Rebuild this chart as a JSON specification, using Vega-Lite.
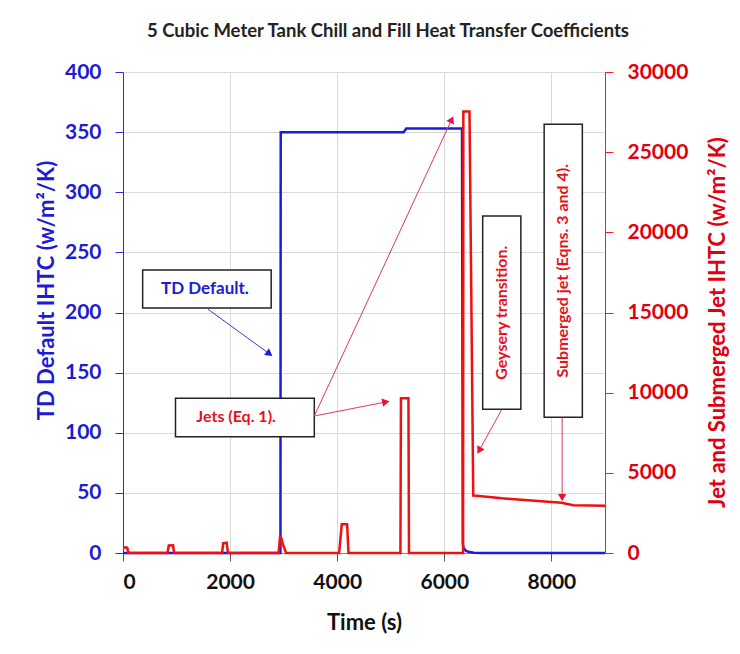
{
  "$schema": "https://vega.github.io/schema/vega-lite/v6.json",
  "width": 482,
  "height": 481,
  "autosize": {"type": "none"},
  "padding": {"left": 123, "top": 72, "right": 135, "bottom": 101},
  "background": "white",
  "title": {"text": "5 Cubic Meter Tank Chill and Fill Heat Transfer Coefficients", "font": "Lato", "fontSize": 18.5, "fontWeight": "bold", "color": "#222222", "anchor": "middle", "dx": 24, "offset": 21},
  "config": {
    "view": {"stroke": null},
    "font": "Lato",
    "axis": {"labelFont": "Lato", "titleFont": "Lato", "labelFontWeight": "bold", "titleFontWeight": "bold", "labelFontSize": 21, "titleFontSize": 22, "tickSize": 8, "gridColor": "#d9d9d9", "gridWidth": 1}
  },
  "datasets": {
    "td": [
      {"t": 0, "v": 0}, {"t": 2940, "v": 0}, {"t": 2945, "v": 350}, {"t": 5240, "v": 350}, {"t": 5290, "v": 353},
      {"t": 6330, "v": 353}, {"t": 6345, "v": 8}, {"t": 6360, "v": 4}, {"t": 6400, "v": 2}, {"t": 6450, "v": 1},
      {"t": 6550, "v": 0.3}, {"t": 6700, "v": 0}, {"t": 9000, "v": 0}
    ],
    "jet": [
      {"t": 0, "r": 330}, {"t": 50, "r": 350}, {"t": 80, "r": 330}, {"t": 100, "r": 0},
      {"t": 830, "r": 0}, {"t": 855, "r": 470}, {"t": 935, "r": 480}, {"t": 955, "r": 0},
      {"t": 1850, "r": 0}, {"t": 1870, "r": 600}, {"t": 1935, "r": 640}, {"t": 1960, "r": 0},
      {"t": 2905, "r": 0}, {"t": 2935, "r": 1100}, {"t": 2960, "r": 900}, {"t": 2990, "r": 500}, {"t": 3045, "r": 0},
      {"t": 4035, "r": 0}, {"t": 4085, "r": 1790}, {"t": 4185, "r": 1790}, {"t": 4210, "r": 0},
      {"t": 5180, "r": 0}, {"t": 5190, "r": 9650}, {"t": 5330, "r": 9650}, {"t": 5340, "r": 0},
      {"t": 6350, "r": 0}, {"t": 6355, "r": 27530}, {"t": 6470, "r": 27530}, {"t": 6540, "r": 3580},
      {"t": 6600, "r": 3570}, {"t": 7075, "r": 3410}, {"t": 7500, "r": 3300}, {"t": 8186, "r": 3140},
      {"t": 8409, "r": 2975}, {"t": 9000, "r": 2950}
    ],
    "boxes": [
      {"id": "td", "t1": 367, "t2": 2767, "r1": 15278, "r2": 17648},
      {"id": "jets", "t1": 980, "t2": 3572, "r1": 7253, "r2": 9645},
      {"id": "gey", "t1": 6716, "t2": 7429, "r1": 8963, "r2": 21015},
      {"id": "sub", "t1": 7864, "t2": 8577, "r1": 8460, "r2": 26738}
    ],
    "labels": [
      {"id": "td", "text": "TD Default.", "t": 1530, "r": 16463},
      {"id": "jets", "text": "Jets (Eq. 1).", "t": 2112, "r": 8482},
      {"id": "gey", "text": "Geysery transition.", "t": 7070, "r": 14985},
      {"id": "sub", "text": "Submerged jet (Eqns. 3 and 4).", "t": 8220, "r": 17603}
    ],
    "arrows": [
      {"id": "a1", "t1": 1587, "r1": 15203, "t2": 2735, "r2": 12420},
      {"id": "a2", "t1": 3572, "r1": 8543, "t2": 4908, "r2": 9420},
      {"id": "a3", "t1": 3572, "r1": 8543, "t2": 6138, "r2": 27038},
      {"id": "a4", "t1": 7075, "r1": 8963, "t2": 6650, "r2": 6390},
      {"id": "a5", "t1": 8200, "r1": 8460, "t2": 8200, "r2": 3450}
    ]
  },
  "layer": [
    {
      "data": {"name": "td"},
      "mark": {"type": "line", "color": "#1c1ce0", "strokeWidth": 2.5},
      "encoding": {
        "x": {"field": "t", "type": "quantitative", "scale": {"domain": [0, 9000], "nice": false},
              "axis": {"title": "Time (s)", "values": [0, 2000, 4000, 6000, 8000], "format": "d", "labelColor": "#111111", "titleColor": "#111111", "domainColor": "#888888", "tickColor": "#555555", "labelPadding": 10, "titlePadding": 20, "grid": true}},
        "y": {"field": "v", "type": "quantitative", "scale": {"domain": [0, 400], "nice": false},
              "axis": {"orient": "left", "title": "TD Default IHTC (w/m²/K)", "values": [0, 50, 100, 150, 200, 250, 300, 350, 400], "format": "d", "labelColor": "#1c1cd0", "titleColor": "#1c1cd0", "domainColor": "#2a2ae0", "tickColor": "#2a2ae0", "labelPadding": 14, "titlePadding": 6, "titleY": 218, "grid": true}}
      }
    },
    {
      "layer": [
        {
          "data": {"name": "jet"},
          "mark": {"type": "line", "color": "#f01010", "strokeWidth": 2.5},
          "encoding": {
            "x": {"field": "t", "type": "quantitative", "scale": {"domain": [0, 9000], "nice": false},
                  "axis": {"title": "Time (s)", "values": [0, 2000, 4000, 6000, 8000], "format": "d", "labelColor": "#111111", "titleColor": "#111111", "domainColor": "#888888", "tickColor": "#555555", "labelPadding": 10, "titlePadding": 20, "grid": true}},
            "y": {"field": "r", "type": "quantitative", "scale": {"domain": [0, 30000], "nice": false},
                  "axis": {"orient": "right", "title": "Jet and Submerged Jet IHTC (w/m²/K)", "values": [0, 5000, 10000, 15000, 20000, 25000, 30000], "format": "d", "labelColor": "#e00010", "titleColor": "#e00010", "domainColor": "#f02020", "tickColor": "#f02020", "labelPadding": 14, "titlePadding": 20, "titleAngle": 270, "titleBaseline": "top", "titleY": 250, "grid": false}}
          }
        },
        {
          "data": {"name": "boxes"},
          "mark": {"type": "rect", "fill": "white", "stroke": "#222222", "strokeWidth": 1.5},
          "encoding": {
            "x": {"field": "t1", "type": "quantitative",
                  "axis": {"title": "Time (s)", "values": [0, 2000, 4000, 6000, 8000], "format": "d", "labelColor": "#111111", "titleColor": "#111111", "domainColor": "#888888", "tickColor": "#555555", "labelPadding": 10, "titlePadding": 20, "grid": true}},
            "x2": {"field": "t2"},
            "y": {"field": "r1", "type": "quantitative",
                  "axis": {"orient": "right", "title": "Jet and Submerged Jet IHTC (w/m²/K)", "values": [0, 5000, 10000, 15000, 20000, 25000, 30000], "format": "d", "labelColor": "#e00010", "titleColor": "#e00010", "domainColor": "#f02020", "tickColor": "#f02020", "labelPadding": 14, "titlePadding": 20, "titleAngle": 270, "titleBaseline": "top", "titleY": 250, "grid": false}},
            "y2": {"field": "r2"}
          }
        },
        {
          "data": {"name": "arrows"},
          "transform": [{"filter": "datum.id == 'a1'"}],
          "mark": {"type": "rule", "color": "#3a3ad8", "strokeWidth": 1},
          "encoding": {
            "x": {"field": "t1", "type": "quantitative",
                  "axis": {"title": "Time (s)", "values": [0, 2000, 4000, 6000, 8000], "format": "d", "labelColor": "#111111", "titleColor": "#111111", "domainColor": "#888888", "tickColor": "#555555", "labelPadding": 10, "titlePadding": 20, "grid": true}},
            "x2": {"field": "t2"},
            "y": {"field": "r1", "type": "quantitative",
                  "axis": {"orient": "right", "title": "Jet and Submerged Jet IHTC (w/m²/K)", "values": [0, 5000, 10000, 15000, 20000, 25000, 30000], "format": "d", "labelColor": "#e00010", "titleColor": "#e00010", "domainColor": "#f02020", "tickColor": "#f02020", "labelPadding": 14, "titlePadding": 20, "titleAngle": 270, "titleBaseline": "top", "titleY": 250, "grid": false}},
            "y2": {"field": "r2"}
          }
        },
        {
          "data": {"name": "arrows"},
          "transform": [{"filter": "datum.id != 'a1'"}],
          "mark": {"type": "rule", "color": "#d83a5a", "strokeWidth": 1},
          "encoding": {
            "x": {"field": "t1", "type": "quantitative",
                  "axis": {"title": "Time (s)", "values": [0, 2000, 4000, 6000, 8000], "format": "d", "labelColor": "#111111", "titleColor": "#111111", "domainColor": "#888888", "tickColor": "#555555", "labelPadding": 10, "titlePadding": 20, "grid": true}},
            "x2": {"field": "t2"},
            "y": {"field": "r1", "type": "quantitative",
                  "axis": {"orient": "right", "title": "Jet and Submerged Jet IHTC (w/m²/K)", "values": [0, 5000, 10000, 15000, 20000, 25000, 30000], "format": "d", "labelColor": "#e00010", "titleColor": "#e00010", "domainColor": "#f02020", "tickColor": "#f02020", "labelPadding": 14, "titlePadding": 20, "titleAngle": 270, "titleBaseline": "top", "titleY": 250, "grid": false}},
            "y2": {"field": "r2"}
          }
        },
        {
          "data": {"name": "arrows"},
          "transform": [{"filter": "datum.id == 'a1'"}],
          "mark": {"type": "point", "shape": "triangle-up", "filled": true, "color": "#1c1ce0", "size": 70, "opacity": 1, "angle": 126},
          "encoding": {
            "x": {"field": "t2", "type": "quantitative",
                  "axis": {"title": "Time (s)", "values": [0, 2000, 4000, 6000, 8000], "format": "d", "labelColor": "#111111", "titleColor": "#111111", "domainColor": "#888888", "tickColor": "#555555", "labelPadding": 10, "titlePadding": 20, "grid": true}},
            "y": {"field": "r2", "type": "quantitative",
                  "axis": {"orient": "right", "title": "Jet and Submerged Jet IHTC (w/m²/K)", "values": [0, 5000, 10000, 15000, 20000, 25000, 30000], "format": "d", "labelColor": "#e00010", "titleColor": "#e00010", "domainColor": "#f02020", "tickColor": "#f02020", "labelPadding": 14, "titlePadding": 20, "titleAngle": 270, "titleBaseline": "top", "titleY": 250, "grid": false}}
          }
        },
        {
          "data": {"name": "arrows"},
          "transform": [{"filter": "datum.id == 'a2'"}],
          "mark": {"type": "point", "shape": "triangle-up", "filled": true, "color": "#ee1030", "size": 70, "opacity": 1, "angle": 79},
          "encoding": {
            "x": {"field": "t2", "type": "quantitative",
                  "axis": {"title": "Time (s)", "values": [0, 2000, 4000, 6000, 8000], "format": "d", "labelColor": "#111111", "titleColor": "#111111", "domainColor": "#888888", "tickColor": "#555555", "labelPadding": 10, "titlePadding": 20, "grid": true}},
            "y": {"field": "r2", "type": "quantitative",
                  "axis": {"orient": "right", "title": "Jet and Submerged Jet IHTC (w/m²/K)", "values": [0, 5000, 10000, 15000, 20000, 25000, 30000], "format": "d", "labelColor": "#e00010", "titleColor": "#e00010", "domainColor": "#f02020", "tickColor": "#f02020", "labelPadding": 14, "titlePadding": 20, "titleAngle": 270, "titleBaseline": "top", "titleY": 250, "grid": false}}
          }
        },
        {
          "data": {"name": "arrows"},
          "transform": [{"filter": "datum.id == 'a3'"}],
          "mark": {"type": "point", "shape": "triangle-up", "filled": true, "color": "#ee1060", "size": 70, "opacity": 1, "angle": 25},
          "encoding": {
            "x": {"field": "t2", "type": "quantitative",
                  "axis": {"title": "Time (s)", "values": [0, 2000, 4000, 6000, 8000], "format": "d", "labelColor": "#111111", "titleColor": "#111111", "domainColor": "#888888", "tickColor": "#555555", "labelPadding": 10, "titlePadding": 20, "grid": true}},
            "y": {"field": "r2", "type": "quantitative",
                  "axis": {"orient": "right", "title": "Jet and Submerged Jet IHTC (w/m²/K)", "values": [0, 5000, 10000, 15000, 20000, 25000, 30000], "format": "d", "labelColor": "#e00010", "titleColor": "#e00010", "domainColor": "#f02020", "tickColor": "#f02020", "labelPadding": 14, "titlePadding": 20, "titleAngle": 270, "titleBaseline": "top", "titleY": 250, "grid": false}}
          }
        },
        {
          "data": {"name": "arrows"},
          "transform": [{"filter": "datum.id == 'a4'"}],
          "mark": {"type": "point", "shape": "triangle-up", "filled": true, "color": "#ee1030", "size": 70, "opacity": 1, "angle": 209},
          "encoding": {
            "x": {"field": "t2", "type": "quantitative",
                  "axis": {"title": "Time (s)", "values": [0, 2000, 4000, 6000, 8000], "format": "d", "labelColor": "#111111", "titleColor": "#111111", "domainColor": "#888888", "tickColor": "#555555", "labelPadding": 10, "titlePadding": 20, "grid": true}},
            "y": {"field": "r2", "type": "quantitative",
                  "axis": {"orient": "right", "title": "Jet and Submerged Jet IHTC (w/m²/K)", "values": [0, 5000, 10000, 15000, 20000, 25000, 30000], "format": "d", "labelColor": "#e00010", "titleColor": "#e00010", "domainColor": "#f02020", "tickColor": "#f02020", "labelPadding": 14, "titlePadding": 20, "titleAngle": 270, "titleBaseline": "top", "titleY": 250, "grid": false}}
          }
        },
        {
          "data": {"name": "arrows"},
          "transform": [{"filter": "datum.id == 'a5'"}],
          "mark": {"type": "point", "shape": "triangle-up", "filled": true, "color": "#ee1030", "size": 70, "opacity": 1, "angle": 180},
          "encoding": {
            "x": {"field": "t2", "type": "quantitative",
                  "axis": {"title": "Time (s)", "values": [0, 2000, 4000, 6000, 8000], "format": "d", "labelColor": "#111111", "titleColor": "#111111", "domainColor": "#888888", "tickColor": "#555555", "labelPadding": 10, "titlePadding": 20, "grid": true}},
            "y": {"field": "r2", "type": "quantitative",
                  "axis": {"orient": "right", "title": "Jet and Submerged Jet IHTC (w/m²/K)", "values": [0, 5000, 10000, 15000, 20000, 25000, 30000], "format": "d", "labelColor": "#e00010", "titleColor": "#e00010", "domainColor": "#f02020", "tickColor": "#f02020", "labelPadding": 14, "titlePadding": 20, "titleAngle": 270, "titleBaseline": "top", "titleY": 250, "grid": false}}
          }
        },
        {
          "data": {"name": "labels"},
          "transform": [{"filter": "datum.id == 'td'"}],
          "mark": {"type": "text", "font": "Lato", "fontWeight": "bold", "fontSize": 17, "color": "#1c1cd0", "align": "center", "baseline": "middle"},
          "encoding": {
            "x": {"field": "t", "type": "quantitative",
                  "axis": {"title": "Time (s)", "values": [0, 2000, 4000, 6000, 8000], "format": "d", "labelColor": "#111111", "titleColor": "#111111", "domainColor": "#888888", "tickColor": "#555555", "labelPadding": 10, "titlePadding": 20, "grid": true}},
            "y": {"field": "r", "type": "quantitative",
                  "axis": {"orient": "right", "title": "Jet and Submerged Jet IHTC (w/m²/K)", "values": [0, 5000, 10000, 15000, 20000, 25000, 30000], "format": "d", "labelColor": "#e00010", "titleColor": "#e00010", "domainColor": "#f02020", "tickColor": "#f02020", "labelPadding": 14, "titlePadding": 20, "titleAngle": 270, "titleBaseline": "top", "titleY": 250, "grid": false}},
            "text": {"field": "text"}
          }
        },
        {
          "data": {"name": "labels"},
          "transform": [{"filter": "datum.id == 'jets'"}],
          "mark": {"type": "text", "font": "Lato", "fontWeight": "bold", "fontSize": 16, "color": "#e8101c", "align": "center", "baseline": "middle"},
          "encoding": {
            "x": {"field": "t", "type": "quantitative",
                  "axis": {"title": "Time (s)", "values": [0, 2000, 4000, 6000, 8000], "format": "d", "labelColor": "#111111", "titleColor": "#111111", "domainColor": "#888888", "tickColor": "#555555", "labelPadding": 10, "titlePadding": 20, "grid": true}},
            "y": {"field": "r", "type": "quantitative",
                  "axis": {"orient": "right", "title": "Jet and Submerged Jet IHTC (w/m²/K)", "values": [0, 5000, 10000, 15000, 20000, 25000, 30000], "format": "d", "labelColor": "#e00010", "titleColor": "#e00010", "domainColor": "#f02020", "tickColor": "#f02020", "labelPadding": 14, "titlePadding": 20, "titleAngle": 270, "titleBaseline": "top", "titleY": 250, "grid": false}},
            "text": {"field": "text"}
          }
        },
        {
          "data": {"name": "labels"},
          "transform": [{"filter": "datum.id == 'gey' || datum.id == 'sub'"}],
          "mark": {"type": "text", "font": "Lato", "fontWeight": "bold", "fontSize": 16, "color": "#e8101c", "align": "center", "baseline": "middle", "angle": 270},
          "encoding": {
            "x": {"field": "t", "type": "quantitative",
                  "axis": {"title": "Time (s)", "values": [0, 2000, 4000, 6000, 8000], "format": "d", "labelColor": "#111111", "titleColor": "#111111", "domainColor": "#888888", "tickColor": "#555555", "labelPadding": 10, "titlePadding": 20, "grid": true}},
            "y": {"field": "r", "type": "quantitative",
                  "axis": {"orient": "right", "title": "Jet and Submerged Jet IHTC (w/m²/K)", "values": [0, 5000, 10000, 15000, 20000, 25000, 30000], "format": "d", "labelColor": "#e00010", "titleColor": "#e00010", "domainColor": "#f02020", "tickColor": "#f02020", "labelPadding": 14, "titlePadding": 20, "titleAngle": 270, "titleBaseline": "top", "titleY": 250, "grid": false}},
            "text": {"field": "text"}
          }
        }
      ]
    }
  ],
  "resolve": {"scale": {"y": "independent"}}
}
